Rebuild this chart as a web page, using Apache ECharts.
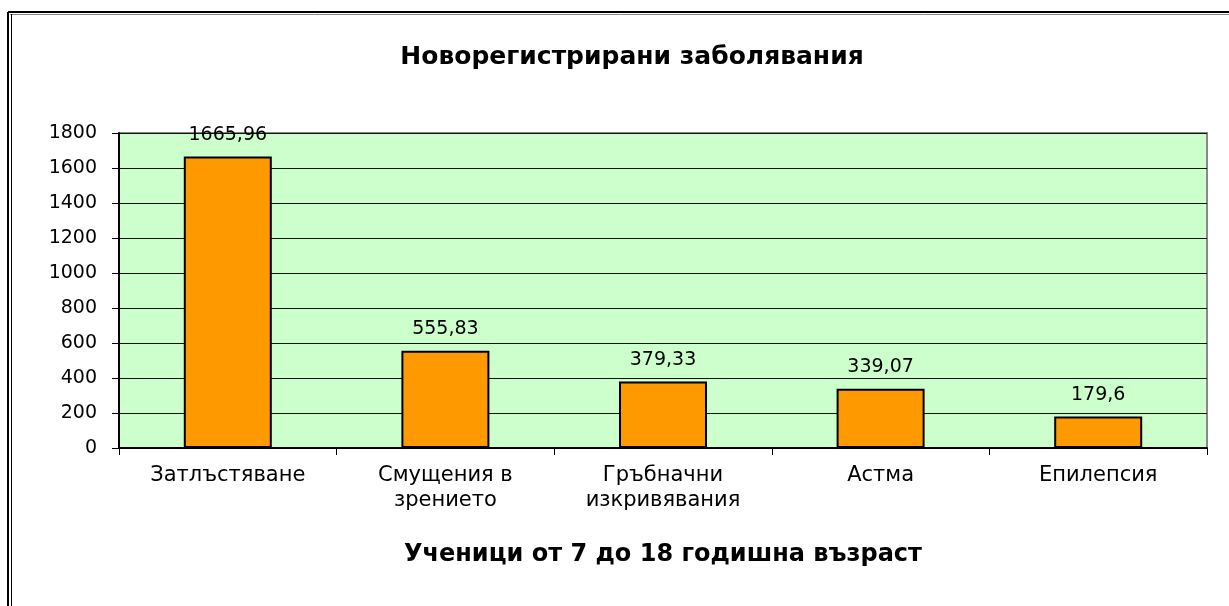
<!DOCTYPE html>
<html><head><meta charset="utf-8">
<script src="https://cdn.jsdelivr.net/npm/echarts@6/dist/echarts.min.js"></script>
<style>html,body{margin:0;padding:0;background:#fff}#c{width:1229px;height:606px}</style>
</head><body><div id="c"></div>
<script>
const categories = ['Затлъстяване', 'Смущения в\nзрението', 'Гръбначни\nизкривявания', 'Астма', 'Епилепсия'];
const values = [1665.96, 555.83, 379.33, 339.07, 179.6];
const yTicks = [0, 200, 400, 600, 800, 1000, 1200, 1400, 1600, 1800];
const titleText = 'Новорегистрирани заболявания';
const xTitle = 'Ученици от 7 до 18 годишна възраст';

const F = '"DejaVu Sans", "Liberation Sans", Arial, sans-serif';
const chart = echarts.init(document.getElementById('c'), null, {renderer: 'canvas'});
chart.setOption({
  animation: false,
  backgroundColor: '#fff',
  title: {
    text: titleText, left: 627, top: 40, textAlign: 'center',
    textStyle: {fontFamily: F, fontSize: 25, fontWeight: 'bold', color: '#000'}
  },
  graphic: [
    {type: 'line', shape: {x1: 8, y1: 12, x2: 1229, y2: 12}, style: {stroke: '#000', lineWidth: 2}},
    {type: 'line', shape: {x1: 10, y1: 14.5, x2: 1229, y2: 14.5}, style: {stroke: '#888', lineWidth: 1}},
    {type: 'line', shape: {x1: 8, y1: 12, x2: 8, y2: 606}, style: {stroke: '#000', lineWidth: 2}},
    {type: 'line', shape: {x1: 11.5, y1: 14, x2: 11.5, y2: 606}, style: {stroke: '#000', lineWidth: 1}}
  ],
  grid: {
    left: 119, right: 22, top: 133, bottom: 158, containLabel: false,
    show: true, backgroundColor: '#CCFFCC', borderColor: '#888', borderWidth: 2
  },
  xAxis: {
    type: 'category', data: categories,
    name: xTitle, nameLocation: 'middle', nameGap: 95,
    nameTextStyle: {fontFamily: F, fontSize: 24, fontWeight: 'bold', color: '#000'},
    axisLine: {lineStyle: {color: '#000', width: 2}},
    axisTick: {show: true, alignWithLabel: false, length: 7, lineStyle: {color: '#000', width: 1}},
    axisLabel: {fontFamily: F, fontSize: 21, color: '#000', margin: 15, lineHeight: 25, interval: 0}
  },
  yAxis: {
    type: 'value', min: 0, max: 1800, interval: 200,
    axisLine: {show: true, lineStyle: {color: '#000', width: 2}},
    axisTick: {show: true, length: 7, lineStyle: {color: '#000', width: 1}},
    axisLabel: {fontFamily: F, fontSize: 19, color: '#000', margin: 22,
      formatter: v => yTicks.includes(v) ? String(v) : ''},
    splitLine: {lineStyle: {color: '#111', width: 1}}
  },
  series: [{
    type: 'bar', data: values, barWidth: 88,
    itemStyle: {color: '#FF9900', borderColor: '#000', borderWidth: 2},
    label: {show: true, position: 'top', distance: 12, fontFamily: F, fontSize: 19, color: '#000',
      formatter: p => String(p.value).replace('.', ',')}
  }]
});
</script></body></html>
